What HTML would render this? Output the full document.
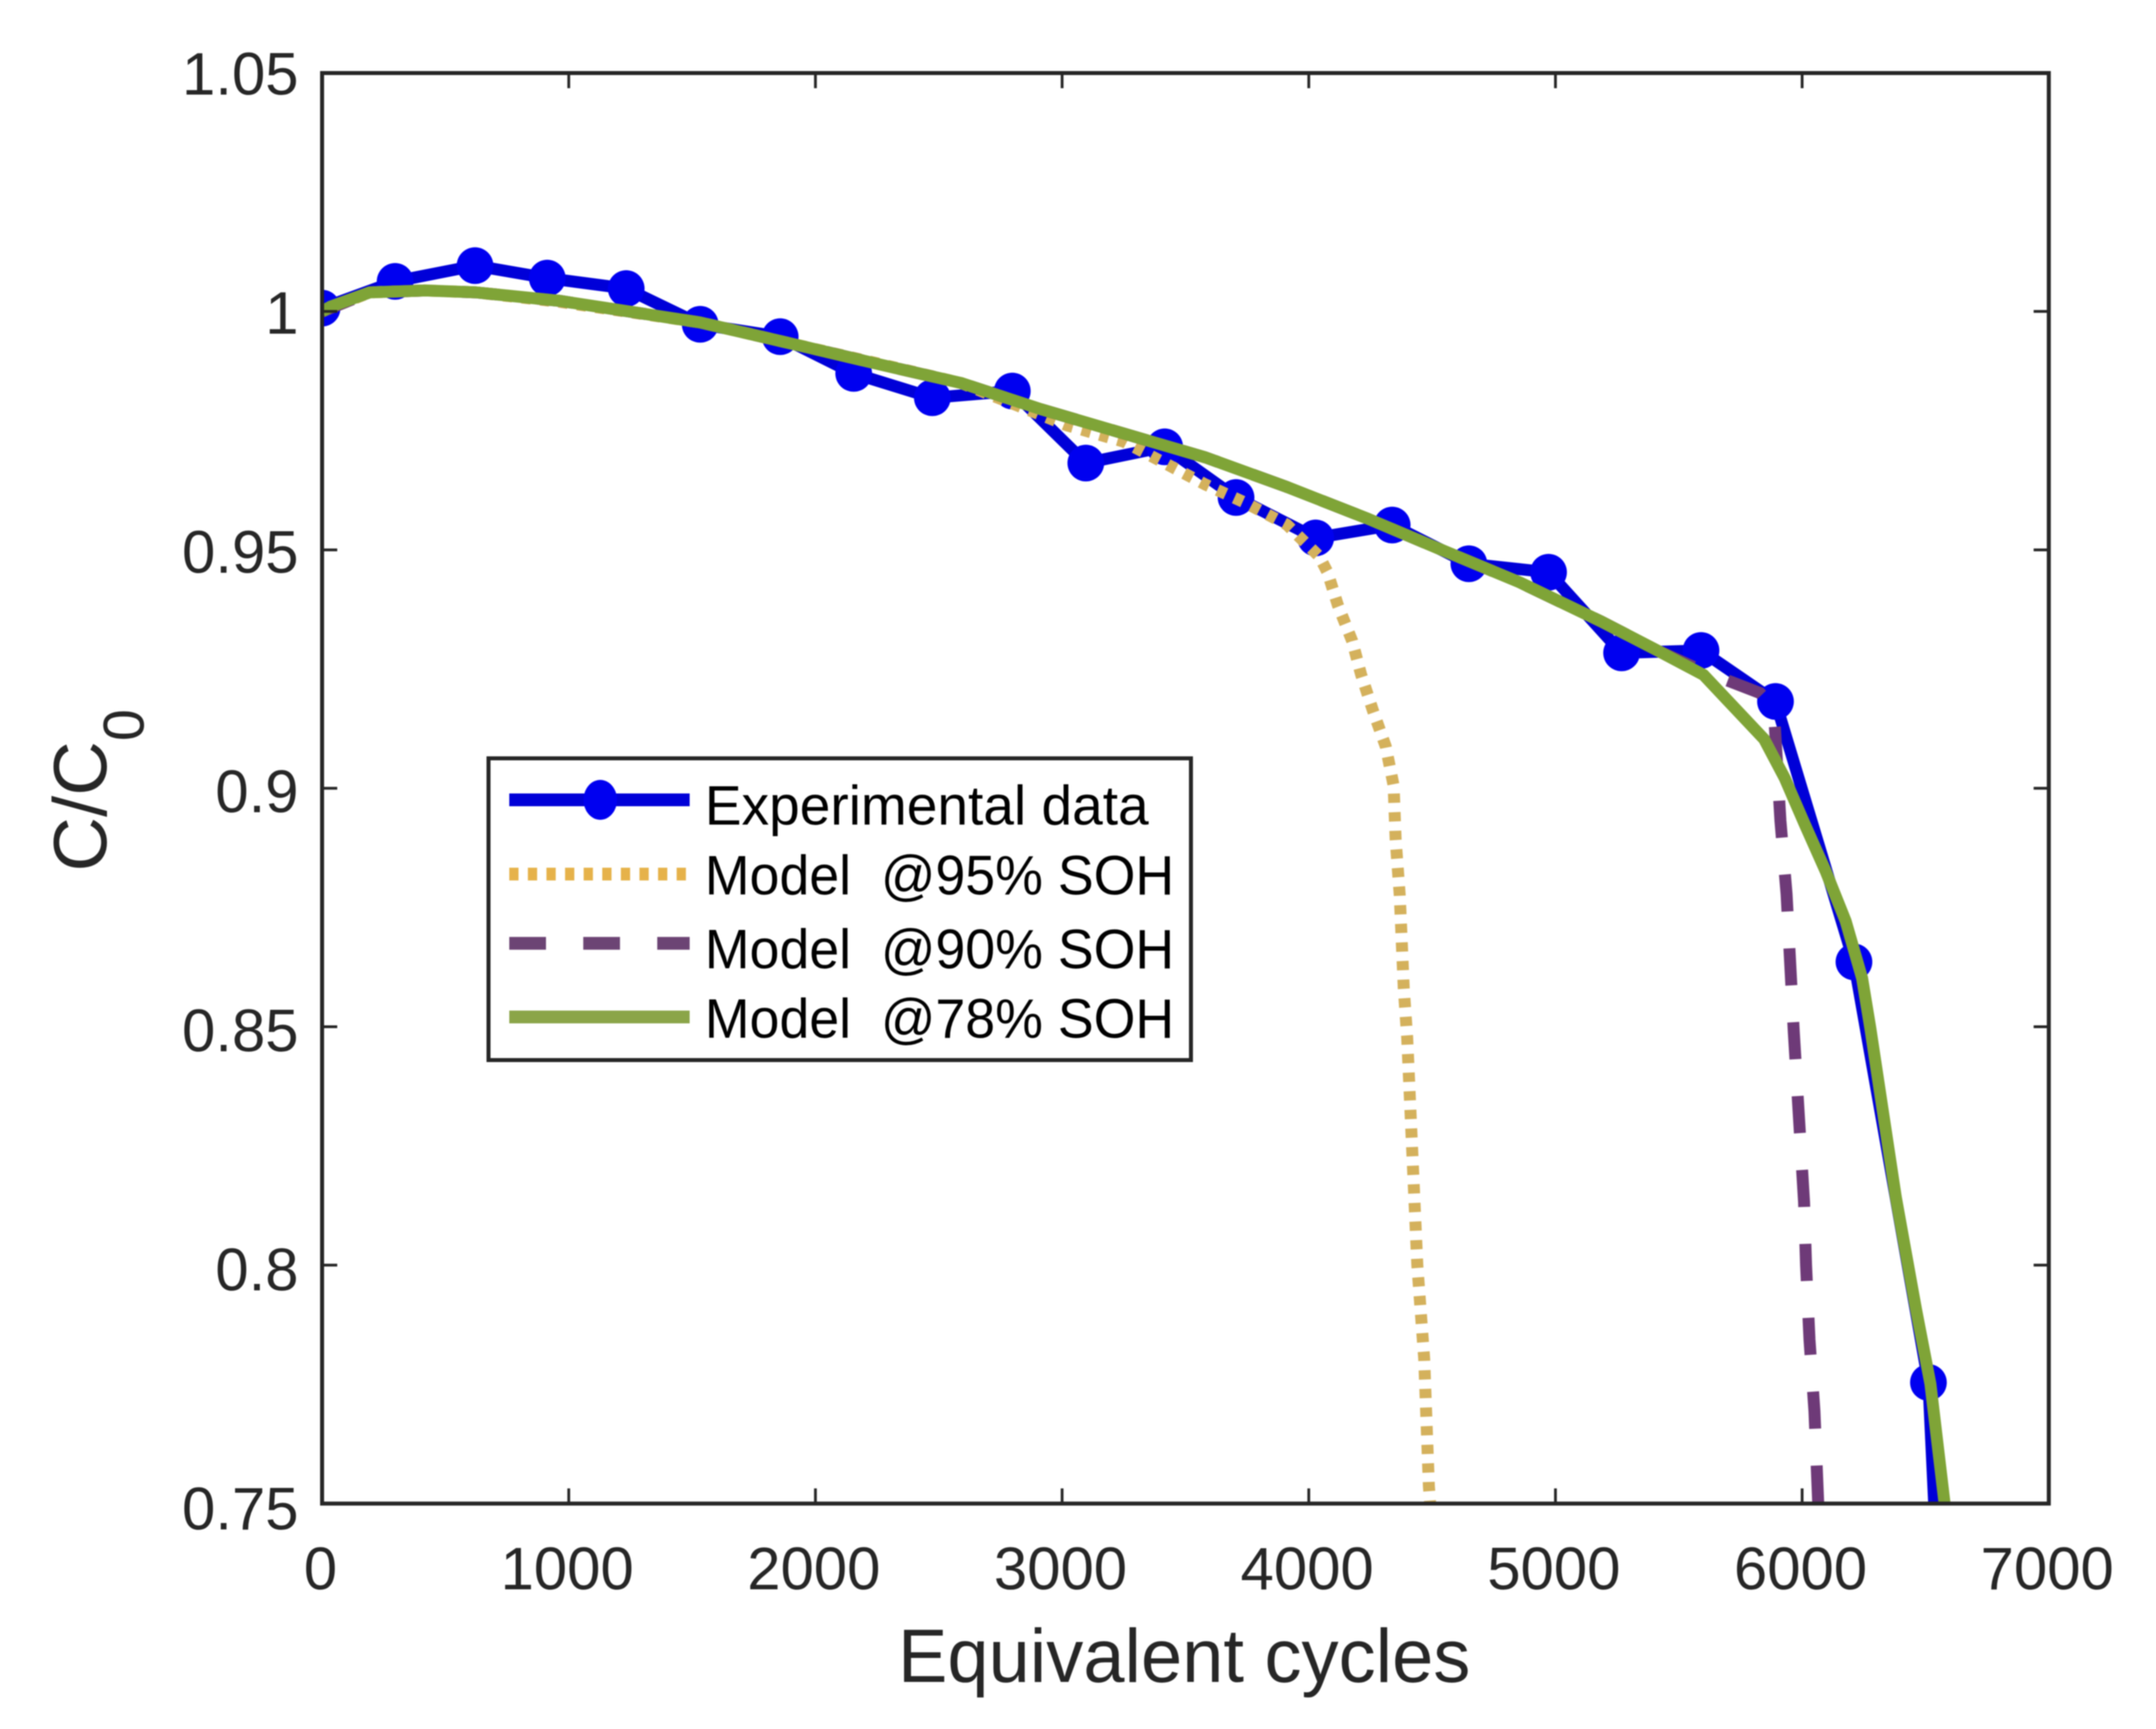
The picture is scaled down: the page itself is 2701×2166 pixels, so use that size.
<!DOCTYPE html>
<html lang="en">
<head>
<meta charset="utf-8">
<title>Capacity fade vs equivalent cycles</title>
<style>
  html, body { margin: 0; padding: 0; background: #ffffff; }
  body { width: 2701px; height: 2166px; overflow: hidden; }
  svg { display: block; filter: blur(0.8px); }
  text { font-family: "Liberation Sans", Arial, sans-serif; }
</style>
</head>
<body>
<svg id="chart" xmlns="http://www.w3.org/2000/svg" width="2701" height="2166" viewBox="0 0 2701 2166">
  <rect x="0" y="0" width="2701" height="2166" fill="#ffffff"/>
  <defs>
    <clipPath id="plot-clip"><rect x="403.5" y="91.5" width="2163.2" height="1792.1"/></clipPath>
  </defs>
  <g id="series-layer" clip-path="url(#plot-clip)"></g>
  <g id="axes-layer"></g>

  <text x="1125" y="2107" font-size="95" fill="#262626" textLength="717" lengthAdjust="spacingAndGlyphs">Equivalent cycles</text>
  <text transform="translate(133,1092) rotate(-90)" font-size="95" fill="#262626">C/C<tspan font-size="72" dy="47">0</tspan></text>

  <g>
    <rect x="612" y="950" width="880" height="378" fill="#ffffff" stroke="#262626" stroke-width="5"/>
    <g>
      <line x1="638" y1="1002" x2="864" y2="1002" stroke="#0000d8" stroke-width="16"/>
      <ellipse cx="752" cy="1002" rx="21" ry="25" fill="#0000f0"/>
      <text x="883" y="1033" font-size="70" fill="#000000" textLength="556" lengthAdjust="spacingAndGlyphs">Experimental data</text>
    </g>
    <g>
      <line x1="638" y1="1095" x2="862" y2="1095" stroke="#e6b24a" stroke-width="16" stroke-dasharray="11.6 11.7"/>
      <text x="883" y="1120.5" font-size="70" fill="#000000" textLength="588" lengthAdjust="spacingAndGlyphs" xml:space="preserve">Model  @95% SOH</text>
    </g>
    <g>
      <line x1="638" y1="1181.7" x2="864" y2="1181.7" stroke="#6c4474" stroke-width="16" stroke-dasharray="46 46.7"/>
      <text x="883" y="1213" font-size="70" fill="#000000" textLength="588" lengthAdjust="spacingAndGlyphs" xml:space="preserve">Model  @90% SOH</text>
    </g>
    <g>
      <line x1="638" y1="1274" x2="864" y2="1274" stroke="#8ba548" stroke-width="16"/>
      <text x="883" y="1300" font-size="70" fill="#000000" textLength="588" lengthAdjust="spacingAndGlyphs" xml:space="preserve">Model  @78% SOH</text>
    </g>
  </g>
</svg>

<script>
/* Tick values and labels */
var xTickValues = [0, 1000, 2000, 3000, 4000, 5000, 6000, 7000];
var xTickLabels = ["0", "1000", "2000", "3000", "4000", "5000", "6000", "7000"];
var yTickValues = [0.75, 0.8, 0.85, 0.9, 0.95, 1, 1.05];
var yTickLabels = ["0.75", "0.8", "0.85", "0.9", "0.95", "1", "1.05"];

/* Experimental data */
var expCycles = [0, 296, 620, 913, 1233, 1533, 1857, 2155, 2474, 2798, 3096, 3416, 3705, 4028, 4338, 4649, 4972, 5268, 5590, 5892, 6210, 6512, 6540];
var expValues = [1.0007, 1.0063, 1.0096, 1.0070, 1.0048, 0.9973, 0.9947, 0.9870, 0.9819, 0.9833, 0.9682, 0.9716, 0.9610, 0.9525, 0.9552, 0.9471, 0.9453, 0.9284, 0.9289, 0.9182, 0.8636, 0.7754, 0.7450];

/* Model @95% SOH */
var model95Cycles = [0, 193, 419, 625, 966, 1532, 1874, 2260, 2590, 3021, 3250, 3416, 3581, 3746, 3911, 4043, 4076, 4118, 4176, 4212, 4260, 4312, 4344, 4352, 4369, 4385, 4399, 4440, 4468, 4487, 4492];
var model95Values = [1.0, 1.004, 1.0044, 1.004, 1.002, 0.9977, 0.9936, 0.989, 0.985, 0.9761, 0.9727, 0.9682, 0.9637, 0.9598, 0.9553, 0.9486, 0.9453, 0.9384, 0.9309, 0.9239, 0.9163, 0.9088, 0.9006, 0.8894, 0.8775, 0.8581, 0.8477, 0.8, 0.7804, 0.7536, 0.75];

/* Model @90% SOH */
var model90Cycles = [0, 193, 419, 625, 966, 1532, 1874, 2260, 2590, 2920, 3250, 3581, 3911, 4241, 4525, 4855, 5185, 5417, 5600, 5713, 5829, 5885, 5912, 5937, 5953, 5966, 6008, 6016, 6030, 6050, 6065];
var model90Values = [1.0, 1.004, 1.0044, 1.004, 1.0022, 0.9977, 0.9936, 0.9889, 0.985, 0.9794, 0.9744, 0.9694, 0.9632, 0.9565, 0.9503, 0.9432, 0.9350, 0.9288, 0.9245, 0.9223, 0.92, 0.9170, 0.8932, 0.8778, 0.8621, 0.849, 0.8132, 0.8, 0.7844, 0.7694, 0.7502];

/* Model @78% SOH */
var model78Cycles = [0, 34, 193, 419, 625, 966, 1532, 1874, 2260, 2590, 2920, 3250, 3581, 3911, 4241, 4525, 4855, 5185, 5417, 5600, 5846, 5930, 6011, 6095, 6176, 6243, 6276, 6380, 6462, 6520, 6577];
var model78Values = [1.0, 1.001, 1.004, 1.0044, 1.004, 1.0022, 0.9977, 0.9936, 0.9889, 0.985, 0.9794, 0.9744, 0.9694, 0.9632, 0.9565, 0.9503, 0.9432, 0.9350, 0.9288, 0.9238, 0.9103, 0.9021, 0.8924, 0.8827, 0.8722, 0.8602, 0.8498, 0.8142, 0.7907, 0.7751, 0.7502];

var SVGNS = "http://www.w3.org/2000/svg";
var plotLeft = 403.5, plotRight = 2566.7, plotTop = 91.5, plotBottom = 1883.6;
var xMin = 0, xMax = 7000, yMin = 0.75, yMax = 1.05;

function xScale(v) { return plotLeft + (v - xMin) / (xMax - xMin) * (plotRight - plotLeft); }
function yScale(v) { return plotBottom - (v - yMin) / (yMax - yMin) * (plotBottom - plotTop); }

function make(tag, attrs, parent) {
  var el = document.createElementNS(SVGNS, tag);
  for (var k in attrs) { el.setAttribute(k, attrs[k]); }
  parent.appendChild(el);
  return el;
}

function linePath(xs, ys) {
  var d = "";
  for (var i = 0; i < xs.length; i++) {
    d += (i ? "L" : "M") + xScale(xs[i]).toFixed(1) + " " + yScale(ys[i]).toFixed(1);
  }
  return d;
}

/* Anchor a dash pattern to the end of a path: phaseAtEnd is how far into the
   pattern the path's last point falls. */
function anchorDash(el, dash, gap, phaseAtEnd) {
  var period = dash + gap;
  var len = el.getTotalLength();
  el.setAttribute("stroke-dasharray", dash + " " + gap);
  el.setAttribute("stroke-dashoffset", (phaseAtEnd - (len % period)).toFixed(2));
}

var seriesLayer = document.getElementById("series-layer");
var axesLayer = document.getElementById("axes-layer");

/* Experimental series */
var expLine = make("path", { d: linePath(expCycles, expValues), fill: "none", stroke: "#0000d8", "stroke-width": 15, "stroke-linejoin": "round" }, seriesLayer);



for (var i = 0; i < expCycles.length - 1; i++) {
  var pt = make("circle", { cx: xScale(expCycles[i]).toFixed(1), cy: yScale(expValues[i]).toFixed(1), r: 23, fill: "#0000f0" }, seriesLayer);
  
  
}

/* Model series */
var line95 = make("path", { d: linePath(model95Cycles, model95Values), fill: "none", stroke: "#d4b15c", "stroke-width": 15 }, seriesLayer);


anchorDash(line95, 11.6, 11.74, 3.8);

var line90 = make("path", { d: linePath(model90Cycles, model90Values), fill: "none", stroke: "#6e3a78", "stroke-width": 15 }, seriesLayer);


anchorDash(line90, 46.5, 46.2, 46.5);

var line78 = make("path", { d: linePath(model78Cycles, model78Values), fill: "none", stroke: "#7fa437", "stroke-width": 15, "stroke-linejoin": "round" }, seriesLayer);



/* Axes frame */
var frame = make("rect", { x: plotLeft, y: plotTop, width: plotRight - plotLeft, height: plotBottom - plotTop, fill: "none", stroke: "#262626", "stroke-width": 5 }, axesLayer);



/* X ticks */
xTickValues.forEach(function (v, i) {
  var x = xScale(v);
  if (i > 0 && i < xTickValues.length - 1) {
    var b = make("line", { x1: x, y1: plotBottom, x2: x, y2: plotBottom - 19, stroke: "#262626", "stroke-width": 3.5 }, axesLayer);
    
    
    var t = make("line", { x1: x, y1: plotTop, x2: x, y2: plotTop + 19, stroke: "#262626", "stroke-width": 3.5 }, axesLayer);
    
    
  }
  var lab = make("text", { x: x - 2, y: 1991, "font-size": 75, fill: "#262626", "text-anchor": "middle" }, axesLayer);
  lab.textContent = xTickLabels[i];
  
  
});

/* Y ticks */
yTickValues.forEach(function (v, i) {
  var y = yScale(v);
  if (i > 0 && i < yTickValues.length - 1) {
    var l = make("line", { x1: plotLeft, y1: y, x2: plotLeft + 19, y2: y, stroke: "#262626", "stroke-width": 3.5 }, axesLayer);
    
    
    var r = make("line", { x1: plotRight, y1: y, x2: plotRight - 19, y2: y, stroke: "#262626", "stroke-width": 3.5 }, axesLayer);
    
    
  }
  var lab = make("text", { x: 374, y: y + 27 + (1.05 - v) * 18, "font-size": 75, fill: "#262626", "text-anchor": "end" }, axesLayer);
  lab.textContent = yTickLabels[i];
  
  
});
</script>
</body>
</html>
